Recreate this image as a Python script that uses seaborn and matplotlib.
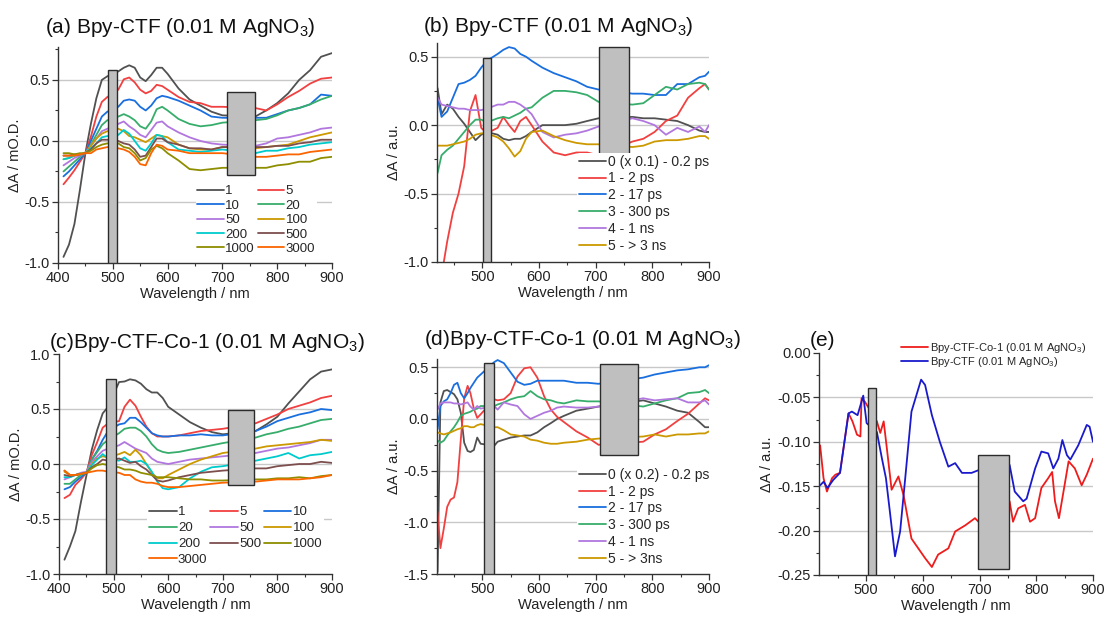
import matplotlib
matplotlib.use('Agg')
import matplotlib.pyplot as plt
from matplotlib.patches import Rectangle
from matplotlib.ticker import MultipleLocator, FormatStrFormatter
import seaborn as sns

# ---------------- data ----------------
# (a) Bpy-CTF, spectra at delay times (ps)
wl_a = [410, 420, 430, 440, 450, 460, 470, 480, 490, 510, 520, 530, 540, 550, 560, 570, 580, 590, 600,
        620, 640, 660, 680, 700, 760, 780, 800, 820, 840, 860, 880, 900]
a_1 = [-0.95, -0.85, -0.68, -0.4, -0.1, 0.14, 0.35, 0.5, 0.53, 0.57, 0.6, 0.62, 0.6, 0.52, 0.49, 0.54, 0.6, 0.6, 0.55,
       0.43, 0.34, 0.29, 0.24, 0.21, 0.2, 0.25, 0.31, 0.39, 0.5, 0.58, 0.69, 0.72]
a_5 = [-0.355, -0.3, -0.24, -0.17, -0.1, 0.035, 0.2, 0.32, 0.36, 0.42, 0.505, 0.52, 0.48, 0.42, 0.39, 0.41, 0.46, 0.45, 0.42,
       0.36, 0.32, 0.31, 0.28, 0.28, 0.27, 0.25, 0.3, 0.36, 0.41, 0.47, 0.51, 0.52]
a_10 = [-0.29, -0.25, -0.2, -0.15, -0.1, 0.0, 0.1, 0.2, 0.24, 0.28, 0.33, 0.34, 0.33, 0.28, 0.25, 0.29, 0.35, 0.37, 0.36,
        0.33, 0.29, 0.25, 0.2, 0.19, 0.19, 0.19, 0.22, 0.25, 0.27, 0.3, 0.38, 0.37]
a_20 = [-0.25, -0.21, -0.17, -0.13, -0.1, -0.03, 0.05, 0.13, 0.17, 0.2, 0.22, 0.2, 0.17, 0.12, 0.1, 0.16, 0.26, 0.28, 0.25,
        0.18, 0.14, 0.12, 0.13, 0.15, 0.17, 0.18, 0.21, 0.25, 0.27, 0.3, 0.34, 0.37]
a_50 = [-0.2, -0.17, -0.14, -0.12, -0.1, -0.04, 0.02, 0.08, 0.1, 0.14, 0.16, 0.12, 0.09, 0.05, 0.03, 0.09, 0.15, 0.16, 0.12,
        0.07, 0.03, 0.0, -0.02, -0.03, -0.04, -0.02, 0.02, 0.03, 0.05, 0.07, 0.1, 0.11]
a_100 = [-0.15, -0.14, -0.12, -0.11, -0.1, -0.04, 0.02, 0.06, 0.08, 0.1, 0.08, 0.04, 0.03, 0.01, -0.01, 0.02, 0.05, 0.04, 0.03,
         -0.03, -0.06, -0.07, -0.07, -0.05, -0.06, -0.05, -0.04, -0.03, 0.0, 0.03, 0.05, 0.07]
a_200 = [-0.15, -0.14, -0.12, -0.11, -0.1, -0.06, -0.02, 0.03, 0.04, 0.05, 0.09, 0.06, 0.0, -0.06, -0.08, -0.02, 0.05, 0.04, -0.01,
         -0.07, -0.08, -0.09, -0.08, -0.07, -0.1, -0.08, -0.08, -0.06, -0.05, -0.03, -0.02, -0.01]
a_500 = [-0.12, -0.12, -0.11, -0.11, -0.1, -0.07, -0.02, 0.01, 0.01, 0.0, -0.02, -0.03, -0.07, -0.13, -0.12, -0.05, 0.02, 0.02, -0.01,
         -0.03, -0.06, -0.06, -0.07, -0.05, -0.05, -0.05, -0.04, -0.04, -0.02, -0.01, 0.01, 0.01]
a_1000 = [-0.1, -0.1, -0.11, -0.1, -0.1, -0.08, -0.05, -0.03, -0.02, -0.02, -0.05, -0.06, -0.1, -0.16, -0.14, -0.07, -0.04, -0.06, -0.1,
          -0.16, -0.23, -0.24, -0.23, -0.22, -0.22, -0.22, -0.2, -0.19, -0.17, -0.17, -0.14, -0.13]
a_3000 = [-0.12, -0.12, -0.12, -0.11, -0.1, -0.1, -0.07, -0.06, -0.05, -0.06, -0.07, -0.09, -0.13, -0.19, -0.2, -0.1, -0.03, -0.04, -0.07,
          -0.08, -0.1, -0.1, -0.1, -0.1, -0.13, -0.13, -0.12, -0.11, -0.11, -0.09, -0.08, -0.07]

# (c) Bpy-CTF-Co-1, same wavelength grid
c_1 = [-0.87, -0.75, -0.61, -0.35, -0.11, 0.13, 0.31, 0.46, 0.52, 0.745, 0.75, 0.77, 0.76, 0.73, 0.68, 0.65, 0.65, 0.6, 0.52,
       0.45, 0.38, 0.33, 0.29, 0.27, 0.3, 0.36, 0.43, 0.55, 0.66, 0.77, 0.84, 0.86]
c_5 = [-0.31, -0.28, -0.19, -0.14, -0.08, 0.08, 0.2, 0.33, 0.37, 0.39, 0.52, 0.585, 0.53, 0.43, 0.34, 0.28, 0.25, 0.25, 0.25,
       0.26, 0.28, 0.3, 0.31, 0.32, 0.37, 0.41, 0.45, 0.5, 0.53, 0.56, 0.6, 0.62]
c_10 = [-0.23, -0.21, -0.16, -0.12, -0.08, 0.04, 0.12, 0.22, 0.3, 0.36, 0.37, 0.42, 0.42, 0.38, 0.33, 0.28, 0.26, 0.25, 0.25,
        0.26, 0.26, 0.27, 0.26, 0.26, 0.3, 0.34, 0.39, 0.42, 0.45, 0.47, 0.5, 0.49]
c_20 = [-0.18, -0.18, -0.14, -0.1, -0.08, 0.04, 0.11, 0.18, 0.22, 0.28, 0.32, 0.33, 0.33, 0.3, 0.25, 0.18, 0.13, 0.11, 0.1,
        0.11, 0.13, 0.15, 0.17, 0.19, 0.24, 0.27, 0.29, 0.32, 0.34, 0.37, 0.4, 0.41]
c_50 = [-0.14, -0.12, -0.1, -0.08, -0.07, 0.02, 0.07, 0.12, 0.14, 0.17, 0.2, 0.17, 0.14, 0.12, 0.1, 0.05, 0.02, 0.01, 0.0,
        0.02, 0.04, 0.05, 0.06, 0.07, 0.1, 0.12, 0.14, 0.15, 0.17, 0.19, 0.22, 0.22]
c_100 = [-0.07, -0.1, -0.1, -0.09, -0.08, 0.0, 0.05, 0.07, 0.06, 0.09, 0.11, 0.08, 0.13, 0.08, 0.0, -0.08, -0.13, -0.13, -0.1,
         -0.05, 0.0, 0.04, 0.07, 0.1, 0.14, 0.16, 0.17, 0.18, 0.19, 0.2, 0.22, 0.21]
c_200 = [-0.12, -0.12, -0.1, -0.09, -0.08, -0.01, 0.04, 0.09, 0.05, 0.03, 0.06, 0.02, 0.02, 0.03, 0.0, -0.07, -0.16, -0.22, -0.23,
         -0.21, -0.13, -0.07, -0.03, -0.02, 0.03, 0.05, 0.07, 0.1, 0.05, 0.08, 0.09, 0.11]
c_500 = [-0.1, -0.11, -0.1, -0.09, -0.08, -0.03, 0.0, 0.04, 0.03, 0.05, 0.03, 0.01, 0.02, -0.02, -0.05, -0.1, -0.15, -0.16, -0.15,
         -0.12, -0.1, -0.08, -0.07, -0.06, -0.04, -0.04, -0.02, -0.01, 0.0, 0.0, 0.02, 0.01]
c_1000 = [-0.06, -0.1, -0.1, -0.09, -0.08, -0.04, -0.01, 0.0, -0.01, -0.03, -0.05, -0.05, -0.06, -0.08, -0.09, -0.1, -0.12, -0.12, -0.12,
          -0.13, -0.14, -0.14, -0.15, -0.15, -0.14, -0.14, -0.13, -0.13, -0.12, -0.13, -0.11, -0.1]
c_3000 = [-0.06, -0.1, -0.1, -0.09, -0.08, -0.07, -0.06, -0.06, -0.07, -0.08, -0.1, -0.1, -0.14, -0.16, -0.17, -0.17, -0.18, -0.2, -0.21,
          -0.21, -0.2, -0.19, -0.18, -0.17, -0.16, -0.15, -0.14, -0.14, -0.14, -0.13, -0.12, -0.1]

delay_labels = ['1', '5', '10', '20', '50', '100', '200', '500', '1000', '3000']

# (b) Bpy-CTF, decay-associated components
wl_b = [421, 428, 438, 448, 458, 468, 478, 488, 498, 508, 527, 537, 547, 557, 567, 577, 587, 606, 626, 646,
        666, 685, 705, 765, 784, 804, 824, 844, 863, 883, 893, 900]
b_0 = [0.27, 0.08, 0.15, 0.12, 0.06, 0.01, -0.05, -0.11, -0.07, -0.05, -0.07, -0.1, -0.11, -0.1, -0.1, -0.08, -0.05, 0.0, 0.0, 0.0,
       0.01, 0.03, 0.05, 0.06, 0.05, 0.05, 0.04, 0.03, 0.0, -0.04, -0.05, -0.05]
b_1 = [-1.3, -1.1, -0.85, -0.64, -0.5, -0.3, 0.1, 0.22, -0.02, -0.06, -0.02, 0.06, 0.0, -0.05, 0.03, 0.06, 0.0, -0.12, -0.2, -0.22,
       -0.2, -0.2, -0.22, -0.12, -0.1, -0.05, 0.03, 0.07, 0.2, 0.27, 0.3, 0.26]
b_2 = [0.2, 0.06, 0.1, 0.2, 0.3, 0.31, 0.33, 0.36, 0.42, 0.47, 0.52, 0.55, 0.57, 0.56, 0.52, 0.5, 0.47, 0.42, 0.38, 0.35,
       0.32, 0.28, 0.26, 0.23, 0.23, 0.22, 0.22, 0.3, 0.3, 0.35, 0.36, 0.39]
b_3 = [-0.35, -0.22, -0.18, -0.15, -0.1, -0.05, 0.0, 0.04, 0.04, 0.02, 0.05, 0.06, 0.05, 0.07, 0.09, 0.12, 0.13, 0.2, 0.25, 0.25,
       0.24, 0.22, 0.17, 0.15, 0.16, 0.22, 0.28, 0.26, 0.3, 0.31, 0.3, 0.26]
b_4 = [0.2, 0.15, 0.14, 0.13, 0.12, 0.12, 0.11, 0.11, 0.11, 0.12, 0.15, 0.15, 0.17, 0.17, 0.15, 0.12, 0.08, -0.05, -0.09, -0.07,
       -0.06, -0.04, -0.01, 0.05, 0.03, 0.0, -0.07, -0.02, -0.05, -0.01, -0.05, 0.0]
b_5 = [-0.15, -0.15, -0.15, -0.14, -0.13, -0.12, -0.1, -0.07, -0.06, -0.06, -0.09, -0.12, -0.17, -0.23, -0.19, -0.1, -0.05, -0.04, -0.08, -0.11,
       -0.13, -0.14, -0.14, -0.16, -0.15, -0.12, -0.11, -0.11, -0.1, -0.08, -0.08, -0.1]
b_labels = ['0 (x 0.1) - 0.2 ps', '1 - 2 ps', '2 - 17 ps', '3 - 300 ps', '4 - 1 ns', '5 - > 3 ns']

# (d) Bpy-CTF-Co-1, decay-associated components
wl_d = [421, 426, 432, 438, 444, 450, 456, 462, 468, 474, 479, 485, 491, 497, 521, 527, 538, 550, 562, 574,
        585, 597, 609, 621, 632, 644, 666, 686, 705, 784, 804, 824, 844, 863, 883, 893, 900]
d_0 = [-1.48, 0.16, 0.27, 0.28, 0.26, 0.24, 0.19, 0.06, -0.23, -0.31, -0.32, -0.3, -0.18, -0.24, -0.26, -0.22, -0.2, -0.18, -0.17, -0.16,
       -0.16, -0.13, -0.08, -0.04, 0.0, 0.03, 0.08, 0.1, 0.12, 0.18, 0.15, 0.12, 0.08, 0.06, -0.03, -0.08, -0.08]
d_1 = [-0.9, -1.25, -1.06, -0.85, -0.78, -0.76, -0.61, -0.2, 0.2, 0.32, 0.25, 0.1, 0.01, 0.045, 0.19, 0.18, 0.19, 0.25, 0.41, 0.49,
       0.5, 0.4, 0.22, 0.09, 0.02, -0.03, -0.12, -0.18, -0.25, -0.22, -0.15, -0.1, -0.02, 0.05, 0.15, 0.2, 0.18]
d_2 = [-0.1, 0.125, 0.17, 0.19, 0.25, 0.33, 0.35, 0.25, 0.2, 0.25, 0.3, 0.35, 0.4, 0.43, 0.55, 0.57, 0.54, 0.45, 0.36, 0.33,
       0.34, 0.37, 0.37, 0.37, 0.37, 0.37, 0.35, 0.35, 0.34, 0.4, 0.43, 0.45, 0.47, 0.48, 0.5, 0.5, 0.52]
d_3 = [-0.21, -0.23, -0.21, -0.16, -0.12, -0.08, -0.03, 0.03, 0.05, 0.06, 0.07, 0.09, 0.1, 0.125, 0.125, 0.14, 0.16, 0.19, 0.21, 0.22,
       0.27, 0.22, 0.19, 0.18, 0.16, 0.15, 0.18, 0.17, 0.17, 0.12, 0.15, 0.18, 0.2, 0.25, 0.26, 0.28, 0.25]
d_4 = [0.09, 0.15, 0.16, 0.16, 0.16, 0.15, 0.15, 0.14, 0.15, 0.16, 0.12, 0.09, 0.125, 0.1, 0.125, 0.09, 0.16, 0.14, 0.125, 0.045,
       0.0, 0.03, 0.06, 0.08, 0.11, 0.12, 0.11, 0.11, 0.12, 0.2, 0.18, 0.19, 0.2, 0.16, 0.16, 0.18, 0.14]
d_5 = [-0.13, -0.14, -0.15, -0.14, -0.13, -0.115, -0.1, -0.09, -0.07, -0.07, -0.08, -0.08, -0.06, -0.05, -0.08, -0.08, -0.11, -0.15, -0.16, -0.17,
       -0.2, -0.21, -0.23, -0.24, -0.24, -0.23, -0.22, -0.2, -0.19, -0.17, -0.15, -0.17, -0.15, -0.15, -0.14, -0.14, -0.12]
d_labels = ['0 (x 0.2) - 0.2 ps', '1 - 2 ps', '2 - 17 ps', '3 - 300 ps', '4 - 1 ns', '5 - > 3ns']

# (e) comparison of the two samples
wl_e_co = [419, 425, 431, 440, 446, 454, 469, 476, 484, 490, 492, 498, 519, 525, 531, 536, 545, 557, 566, 580,
           592, 604, 616, 627, 645, 657, 675, 692, 698, 753, 759, 768, 780, 789, 798, 809, 821, 828, 833, 840,
           848, 857, 868, 880, 889, 900]
e_co = [-0.104, -0.141, -0.156, -0.141, -0.137, -0.135, -0.068, -0.077, -0.092, -0.094, -0.051, -0.055, -0.077, -0.09, -0.077, -0.104,
        -0.154, -0.139, -0.16, -0.209, -0.22, -0.231, -0.241, -0.227, -0.22, -0.201, -0.194, -0.186, -0.19, -0.167, -0.19, -0.175,
        -0.171, -0.19, -0.186, -0.152, -0.141, -0.134, -0.167, -0.186, -0.156, -0.122, -0.13, -0.149, -0.137, -0.119]
wl_e_ctf = [419, 425, 432, 442, 454, 469, 475, 485, 495, 501, 519, 528, 535, 542, 551, 560, 569, 580, 597, 604,
            616, 630, 645, 657, 669, 686, 698, 753, 762, 777, 783, 798, 809, 821, 830, 839, 846, 854, 860, 874,
            889, 894, 900]
e_ctf = [-0.149, -0.145, -0.152, -0.143, -0.135, -0.068, -0.066, -0.07, -0.048, -0.079, -0.089, -0.119, -0.141, -0.179, -0.229,
         -0.201, -0.141, -0.066, -0.03, -0.036, -0.07, -0.1, -0.128, -0.124, -0.135, -0.135, -0.132, -0.126, -0.156, -0.167,
         -0.164, -0.13, -0.111, -0.113, -0.13, -0.119, -0.098, -0.115, -0.12, -0.104, -0.081, -0.083, -0.1]

# grey masked regions (x0, x1, y0, y1) in data units
mask_a = [(491, 508, -1.0, 0.58), (708, 759, -0.28, 0.40)]
mask_b = [(500.5, 514.5, -1.0, 0.49), (706, 758.5, -0.225, 0.57)]
mask_c = [(486, 504, -1.0, 0.77), (709, 758, -0.19, 0.49)]
mask_d = [(503, 520.5, -1.5, 0.54), (707, 775, -0.35, 0.53)]
mask_e = [(504, 517, -0.25, -0.039), (698, 752.8, -0.2436, -0.115)]

# ---------------- style ----------------
sns.set_style('ticks')
plt.rcParams['font.family'] = ['Liberation Sans', 'DejaVu Sans']
plt.rcParams['mathtext.default'] = 'regular'
plt.rcParams['axes.unicode_minus'] = False

pal = ['#515151', '#F14040', '#1A6FDF', '#37AD6B', '#B177DE', '#CC9900',
       '#00CBCC', '#7D4E4E', '#8E8E00', '#FB6501']

W, H = 1105, 617
fig = plt.figure(figsize=(W / 100, H / 100), dpi=100)


def box(l, t, r, b):
    return [l / W, 1 - b / H, (r - l) / W, (b - t) / H]


def style_ax(ax, xlim, ylim, ymaj, grid_vals, ylabel, yfmt='%.1f'):
    ax.set_xlim(*xlim)
    ax.set_ylim(*ylim)
    ax.xaxis.set_major_locator(MultipleLocator(100))
    ax.xaxis.set_minor_locator(MultipleLocator(50))
    ax.yaxis.set_major_locator(MultipleLocator(ymaj))
    ax.yaxis.set_minor_locator(MultipleLocator(ymaj / 2))
    ax.yaxis.set_major_formatter(FormatStrFormatter(yfmt))
    for g in grid_vals:
        ax.axhline(g, color='#c8c8c8', lw=1.0, zorder=0)
    sns.despine(ax=ax)
    for s in ['left', 'bottom']:
        ax.spines[s].set_color('#333333')
        ax.spines[s].set_linewidth(1.0)
    ax.tick_params(which='major', direction='out', length=4, width=0.9, labelsize=10.5,
                   color='#333333', labelcolor='#222222', pad=2)
    ax.tick_params(which='minor', direction='out', length=2.5, width=0.8, color='#333333')
    ax.set_xlabel('Wavelength / nm', fontsize=10.5, labelpad=1, color='#222222')
    ax.set_ylabel(ylabel, fontsize=10.5, labelpad=2, color='#222222')


def add_masks(ax, masks):
    for x0, x1, y0, y1 in masks:
        ax.add_patch(Rectangle((x0, y0), x1 - x0, y1 - y0, facecolor='#bfbfbf',
                               edgecolor='#2b2b2b', lw=1.0, zorder=4))


def draw_set(ax, wl, series, labels, colors):
    for vals, lab, col in zip(series, labels, colors):
        sns.lineplot(x=wl, y=vals, ax=ax, color=col, lw=1.3, label=lab, zorder=2)
    return ax.get_legend_handles_labels()


leg_kw = dict(frameon=True, facecolor='white', edgecolor='none', framealpha=1,
              handletextpad=0.1, borderpad=0.1, loc='lower left')

# ---- (a)
ax_a = fig.add_axes(box(58, 47, 332, 263))
h, l = draw_set(ax_a, wl_a, [a_1, a_5, a_10, a_20, a_50, a_100, a_200, a_500, a_1000, a_3000], delay_labels, pal)
order = [0, 2, 4, 6, 8, 1, 3, 5, 7, 9]
ax_a.legend([h[i] for i in order], [l[i] for i in order], ncol=2, bbox_to_anchor=(0.48, 0.0),
            fontsize=9.5, handlelength=2.0, columnspacing=0.25, labelspacing=0.17, **leg_kw)
style_ax(ax_a, (400, 900), (-1.0, 0.77), 0.5, [0.5, 0.0, -0.5], 'ΔA / mO.D.')
add_masks(ax_a, mask_a)

# ---- (b)
ax_b = fig.add_axes(box(437, 43, 709, 262))
h, l = draw_set(ax_b, wl_b, [b_0, b_1, b_2, b_3, b_4, b_5], b_labels, pal[:6])
ax_b.legend(h, l, bbox_to_anchor=(0.49, 0.005), fontsize=10, handlelength=2.0,
            labelspacing=0.2, **leg_kw)
style_ax(ax_b, (420, 900), (-1.0, 0.6), 0.5, [0.5, 0.0, -0.5], 'ΔA / a.u.')
add_masks(ax_b, mask_b)

# ---- (c)
ax_c = fig.add_axes(box(59, 354, 332, 574))
h, l = draw_set(ax_c, wl_a, [c_1, c_5, c_10, c_20, c_50, c_100, c_200, c_500, c_1000, c_3000], delay_labels, pal)
order = [0, 3, 6, 9, 1, 4, 7, 2, 5, 8]
ax_c.legend([h[i] for i in order], [l[i] for i in order], ncol=3, bbox_to_anchor=(0.3, 0.0),
            fontsize=9.5, handlelength=2.1, columnspacing=0.2, labelspacing=0.28, **leg_kw)
style_ax(ax_c, (400, 900), (-1.0, 1.0), 0.5, [0.5, 0.0, -0.5], 'ΔA / mO.D.')
add_masks(ax_c, mask_c)

# ---- (d)
ax_d = fig.add_axes(box(437, 359, 709, 574))
h, l = draw_set(ax_d, wl_d, [d_0, d_1, d_2, d_3, d_4, d_5], d_labels, pal[:6])
ax_d.legend(h, l, bbox_to_anchor=(0.49, 0.0), fontsize=10, handlelength=2.0,
            labelspacing=0.2, **leg_kw)
style_ax(ax_d, (420, 900), (-1.5, 0.58), 0.5, [0.5, 0.0, -0.5, -1.0], 'ΔA / a.u.')
add_masks(ax_d, mask_d)

# ---- (e)
ax_e = fig.add_axes(box(819, 353, 1093, 575))
sns.lineplot(x=wl_e_co, y=e_co, ax=ax_e, color='#EE1C1C', lw=1.3,
             label='Bpy-CTF-Co-1 (0.01 M AgNO$_3$)', zorder=2)
sns.lineplot(x=wl_e_ctf, y=e_ctf, ax=ax_e, color='#1A1ACC', lw=1.3,
             label='Bpy-CTF (0.01 M AgNO$_3$)', zorder=2)
ax_e.legend(loc='upper right', bbox_to_anchor=(1.0, 1.085), fontsize=8, frameon=False,
            handlelength=2.4, handletextpad=0.2, labelspacing=0.05, borderpad=0.1)
style_ax(ax_e, (417, 900), (-0.25, 0.0), 0.05, [-0.05, -0.10, -0.15, -0.20], 'ΔA / a.u.', yfmt='%.2f')
add_masks(ax_e, mask_e)

# ---- panel titles
tkw = dict(fontsize=15, va='baseline', ha='left', color='#111111')
fig.text(45 / W, 1 - 33 / H, '(a) Bpy-CTF (0.01 M AgNO$_3$)', **tkw)
fig.text(423 / W, 1 - 32 / H, '(b) Bpy-CTF (0.01 M AgNO$_3$)', **tkw)
fig.text(49 / W, 1 - 348 / H, '(c)Bpy-CTF-Co-1 (0.01 M AgNO$_3$)', **tkw)
fig.text(424 / W, 1 - 345 / H, '(d)Bpy-CTF-Co-1 (0.01 M AgNO$_3$)', **tkw)
fig.text(810 / W, 1 - 346 / H, '(e)', **tkw)

fig.savefig('out.png', dpi=100)
